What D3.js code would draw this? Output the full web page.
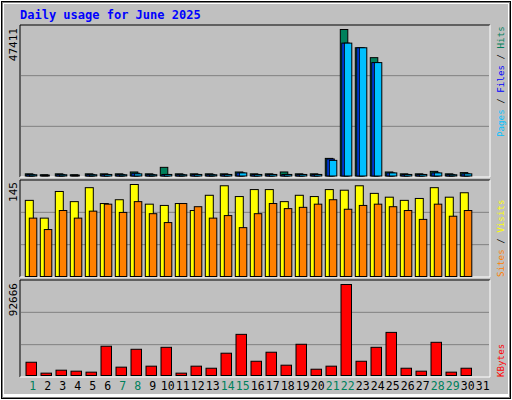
<!DOCTYPE html><html><head><script src="https://cdn.jsdelivr.net/npm/d3@7"></script>
<style>body{margin:0;background:#fff}</style></head><body><svg id="c" width="512" height="400"></svg>
<script>
const days=d3.range(1,32);
const weekend=[1,7,8,14,15,21,22,28,29];
const hits=[700,400,700,400,700,700,700,1300,700,2800,700,700,700,700,1300,700,700,1300,700,700,5700,47411,41500,38300,1300,700,700,1500,700,1100,0];
const files=[500,300,500,300,500,500,500,900,500,500,500,500,500,500,1000,500,500,500,500,500,5500,43000,41500,36700,1000,500,500,1000,500,700,0];
const pages=[400,0,400,0,400,500,400,700,400,500,400,500,400,500,1000,500,500,500,500,500,5060,43000,41500,36700,1000,500,500,1000,400,700,0];
const visits=[120,92,134,118,140,115,121,145,114,112,115,104,128,143,126,137,137,118,128,126,137,136,143,131,125,120,123,140,125,132,0];
const sites=[92,74,104,92,103,114,101,118,99,85,115,110,92,96,77,99,115,107,109,114,121,106,112,114,110,104,90,114,95,104,0];
const kbytes=[13500,2400,5400,4400,3400,29800,8500,26700,9500,28700,2400,9500,7400,22700,41900,14500,23700,10500,31800,6400,9500,92666,14500,28700,43900,7400,4400,33800,3400,7400,0];
const maxTop=47411,maxMid=145,maxBot=92666;
const svg=d3.select("#c");
const font="'DejaVu Sans Mono', monospace";
svg.append("rect").attr("width",512).attr("height",400).attr("fill","#fff");
svg.append("rect").attr("x",1).attr("y",1).attr("width",510).attr("height",398).attr("fill","#000");
svg.append("rect").attr("x",2).attr("y",2).attr("width",508).attr("height",396).attr("fill","#808080");
svg.append("rect").attr("x",3).attr("y",3).attr("width",506).attr("height",394).attr("fill","#fff");
svg.append("rect").attr("x",4).attr("y",4).attr("width",504).attr("height",390).attr("fill","#c0c0c0");
svg.append("text").attr("x",20).attr("y",19).attr("fill","#0000ff").attr("font-family",font).attr("font-weight","bold").attr("font-size",12).text("Daily usage for June 2025");
const x=d3.scaleBand().domain(days).range([25.3,490.3]).paddingInner(0).paddingOuter(0);
function panel(y0,y1){
  svg.append("rect").attr("x",20).attr("y",y0).attr("width",470).attr("height",y1-y0).attr("fill","#c0c0c0");
  svg.append("path").attr("d",`M20,${y1}V${y0}H490`).attr("stroke","#000").attr("fill","none");
  svg.append("path").attr("d",`M490,${y0}V${y1}H20`).attr("stroke","#fff").attr("fill","none");
  const h=y1-y0;
  [1/3,2/3].forEach(f=>svg.append("line").attr("x1",21).attr("x2",489).attr("y1",y0+h*f).attr("y2",y0+h*f).attr("stroke","#808080"));
}
panel(25,177);panel(180,277);panel(280,377);
function bars(data,y,off,w,color){
  svg.append("g").selectAll("rect").data(data.map((v,i)=>({d:days[i],v}))).join("rect")
   .attr("x",d=>x(d.d)+off).attr("width",w).attr("y",d=>y(d.v)).attr("height",d=>Math.max(0,y(0)-y(d.v)))
   .attr("fill",color).attr("stroke","#000").attr("stroke-width",1).attr("display",d=>d.v>0?null:"none");
}
const yT=d3.scaleLinear().domain([0,maxTop]).range([176,29.5]);
const yM=d3.scaleLinear().domain([0,maxMid]).range([276.5,184.5]);
const yB=d3.scaleLinear().domain([0,maxBot]).range([375.5,284.5]);
bars(hits,yT,0,7.5,"#00805c");
bars(files,yT,1.5,7.5,"#0040ff");
bars(pages,yT,4,7.5,"#00c0ff");
bars(visits,yM,0,8,"#ffff00");
bars(sites,yM,4,7.5,"#ff8000");
bars(kbytes,yB,0.7,10.5,"#ff0000");
svg.append("g").selectAll("text").data(days).join("text").attr("x",d=>x(d)+7.5).attr("y",390).attr("text-anchor","middle")
 .attr("font-family",font).attr("font-size",11.5).attr("fill",d=>weekend.includes(d)?"#00805c":"#000").text(d=>d);
function vlabel(xp,yp,t){svg.append("text").attr("transform",`translate(17,${yp}) rotate(-90)`).attr("text-anchor","end")
 .attr("font-family",font).attr("font-size",11).attr("fill","#000").text(t);}
vlabel(17,28,d3.format("d")(maxTop));vlabel(17,182,maxMid);vlabel(17,283,maxBot);
function rl(yp,parts){const t=svg.append("text").attr("transform",`translate(504,${yp}) rotate(-90)`).attr("font-family",font).attr("font-size",9.2).attr("text-anchor","start");
 parts.forEach(p=>t.append("tspan").attr("fill",p[1]).text(p[0]));}
rl(137,[["Pages","#00c0ff"],[" / ","#000"],["Files","#0000ff"],[" / ","#000"],["Hits","#00805c"]]);
rl(277,[["Sites","#ff8000"],[" / ","#000"],["Visits","#ffff00"]]);
rl(377,[["KBytes","#ff0000"]]);
</script></body></html>
